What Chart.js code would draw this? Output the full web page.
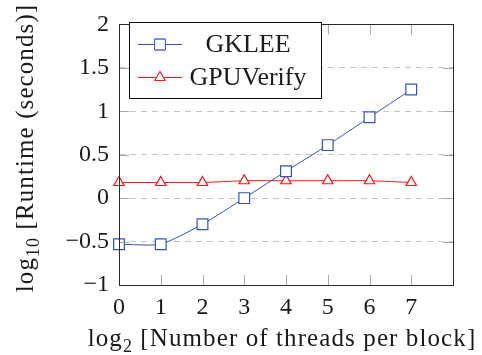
<!DOCTYPE html>
<html>
<head>
<meta charset="utf-8">
<script src="https://cdn.jsdelivr.net/npm/chart.js@4"></script>
<style>
  html, body { margin: 0; padding: 0; background: #fff; }
  #chart { display: block; }
</style>
</head>
<body>
<canvas id="chart" width="482" height="355"></canvas>
<script>
// log2 of threads per block
const threadsLog2 = [0, 1, 2, 3, 4, 5, 6, 7];
// log10 runtime in seconds
const gkleeRuntime = [-0.53, -0.53, -0.30, 0.0, 0.31, 0.61, 0.93, 1.25];
const gpuVerifyRuntime = [0.18, 0.18, 0.18, 0.20, 0.20, 0.20, 0.20, 0.18];
const seriesNames = ['GKLEE', 'GPUVerify'];
const yTicks = [-1, -0.5, 0, 0.5, 1, 1.5, 2];

const SERIF = "'Liberation Serif', 'Times New Roman', serif";
const BLUE = '#3654b4';
const RED = '#f01818';

Chart.defaults.font.family = SERIF;

function points(ys) {
    return threadsLog2.map((x, i) => ({ x: x, y: ys[i] }));
}

function fmtNum(v) {
    return v < 0 ? '\u2212' + String(-v) : String(v);
}

// draws text with a lowered subscript after "log"
function drawLogText(ctx, sub, rest, x, y, size, spacing) {
    const big = size + 'px ' + SERIF;
    const small = Math.round(size * 0.7) + 'px ' + SERIF;
    ctx.letterSpacing = spacing + 'px';
    ctx.font = big;
    const w1 = ctx.measureText('log').width;
    ctx.font = small;
    const w2 = ctx.measureText(sub).width;
    ctx.font = big;
    const w3 = ctx.measureText(' ' + rest).width;
    const total = w1 + w2 + w3;
    let cx = x - total / 2;
    ctx.textAlign = 'left';
    ctx.textBaseline = 'alphabetic';
    ctx.font = big;
    ctx.fillText('log', cx, y);
    cx += w1;
    ctx.font = small;
    ctx.fillText(sub, cx, y + size * 0.25);
    cx += w2;
    ctx.font = big;
    ctx.fillText(' ' + rest, cx, y);
    ctx.letterSpacing = '0px';
}

const framePlugin = {
    id: 'frame',
    afterDatasetsDraw(chart) {
        const { ctx, chartArea: a, scales } = chart;
        ctx.save();
        // inner tick marks
        ctx.strokeStyle = '#a8a8a8';
        ctx.lineWidth = 1;
        ctx.beginPath();
        threadsLog2.concat([8]).forEach(v => {
            const px = Math.round(scales.x.getPixelForValue(v)) + 0.5;
            ctx.moveTo(px, a.bottom); ctx.lineTo(px, a.bottom - 10);
            ctx.moveTo(px, a.top); ctx.lineTo(px, a.top + 10);
        });
        yTicks.forEach(v => {
            const py = Math.round(scales.y.getPixelForValue(v)) + 0.5;
            ctx.moveTo(a.left, py); ctx.lineTo(a.left + 10, py);
            ctx.moveTo(a.right, py); ctx.lineTo(a.right - 10, py);
        });
        ctx.stroke();
        // frame
        ctx.strokeStyle = '#2a2a2a';
        ctx.strokeRect(Math.round(a.left) + 0.5, Math.round(a.top) + 0.5,
            Math.round(a.right - a.left), Math.round(a.bottom - a.top));
        ctx.restore();
    },
    afterDraw(chart) {
        const { ctx } = chart;
        ctx.save();
        ctx.fillStyle = '#1a1a1a';
        // x title
        drawLogText(ctx, '2', '[Number of threads per block]', 282, 346, 25, 1.1);
        // y title
        ctx.translate(33, 148);
        ctx.rotate(-Math.PI / 2);
        drawLogText(ctx, '10', '[Runtime (seconds)]', 0, 0, 25, 1.1);
        ctx.restore();

        // legend
        ctx.save();
        const lx = 129.5, ly = 22.5, lw = 192, lh = 76;
        ctx.fillStyle = '#fff';
        ctx.fillRect(lx, ly, lw, lh);
        ctx.strokeStyle = '#111';
        ctx.lineWidth = 1;
        ctx.strokeRect(lx, ly, lw, lh);
        const rows = [44, 77];
        chart.data.datasets.forEach((ds, i) => {
            const y = rows[i] + 0.5;
            ctx.strokeStyle = ds.borderColor;
            ctx.lineWidth = 1;
            ctx.beginPath();
            ctx.moveTo(138, y); ctx.lineTo(182, y);
            ctx.stroke();
            Chart.helpers.drawPoint(ctx, {
                pointStyle: ds.pointStyle, radius: ds.pointRadius, rotation: 0,
                borderWidth: 1
            }, 160, y);
            ctx.fillStyle = '#fff';
            ctx.fill();
            ctx.stroke();
            ctx.fillStyle = '#1a1a1a';
            ctx.font = '26px ' + SERIF;
            ctx.textAlign = 'center';
            ctx.textBaseline = 'middle';
            ctx.fillText(ds.label, 248, y + 1);
        });
        ctx.restore();
    }
};

new Chart(document.getElementById('chart').getContext('2d'), {
    type: 'line',
    data: {
        datasets: [
            {
                label: seriesNames[0],
                data: points(gkleeRuntime),
                borderColor: BLUE,
                backgroundColor: '#fff',
                borderWidth: 1,
                pointStyle: 'rect',
                pointRadius: 7.6,
                pointBorderWidth: 1.2,
                tension: 0.2,
                clip: false
            },
            {
                label: seriesNames[1],
                data: points(gpuVerifyRuntime),
                borderColor: RED,
                backgroundColor: '#fff',
                borderWidth: 1,
                pointStyle: 'triangle',
                pointRadius: 6,
                pointBorderWidth: 1.2,
                tension: 0.2,
                clip: false
            }
        ]
    },
    options: {
        responsive: false,
        animation: false,
        devicePixelRatio: 1,
        layout: { padding: { top: 14, right: 29, left: 0, bottom: 0 } },
        plugins: {
            legend: { display: false },
            tooltip: { enabled: false }
        },
        scales: {
            x: {
                type: 'linear',
                min: 0,
                max: 8,
                afterFit: s => { s.height = 70; },
                ticks: {
                    stepSize: 1,
                    padding: 8,
                    color: '#1a1a1a',
                    font: { family: SERIF, size: 24 },
                    maxRotation: 0,
                    callback: v => (v === 8 ? '' : String(v))
                },
                grid: { display: false, drawTicks: false },
                border: { display: false }
            },
            y: {
                min: -1,
                max: 2,
                afterFit: s => { s.width = 119; },
                afterBuildTicks: s => { s.ticks = yTicks.map(v => ({ value: v })); },
                ticks: {
                    padding: 10,
                    color: '#1a1a1a',
                    font: { family: SERIF, size: 24 },
                    callback: v => fmtNum(v)
                },
                grid: {
                    drawTicks: false,
                    color: c => (c.tick && (c.tick.value === -1 || c.tick.value === 2) ? 'rgba(0,0,0,0)' : '#c4c4c4'),
                    lineWidth: 1
                },
                border: { display: false, dash: [6, 5] }
            }
        }
    },
    plugins: [framePlugin]
});
</script>
</body>
</html>
